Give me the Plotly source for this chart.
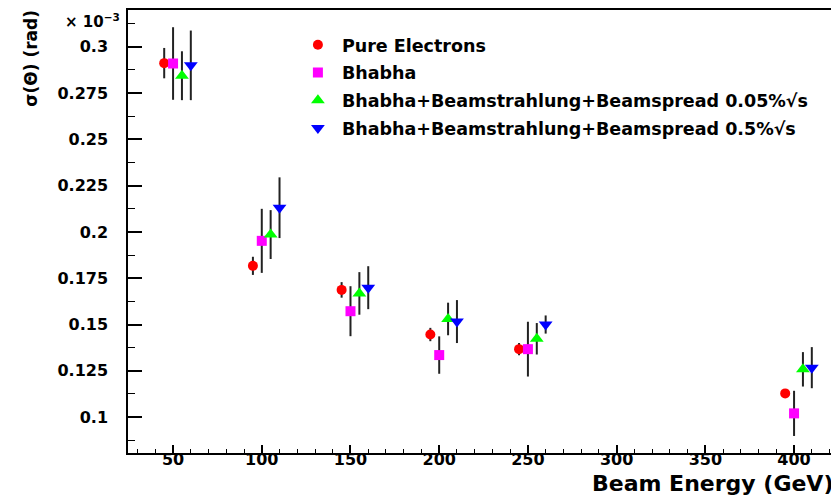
import plotly.graph_objects as go

# beam energies (GeV), each sample shifted a bit so the error bars don't overlap
e_pure = [45, 95, 145, 195, 245, 395]
e_bhabha = [50, 100, 150, 200, 250, 400]
e_bs005 = [55, 105, 155, 205, 255, 405]
e_bs05 = [60, 110, 160, 210, 260, 410]

# sigma(theta) values and errors (x 10^-3 rad)
pure = [0.2912, 0.1817, 0.1687, 0.1446, 0.1367, 0.1128]
pure_err = [0.0082, 0.0049, 0.0042, 0.0036, 0.0033, 0.0018]

bhabha = [0.2910, 0.1952, 0.1572, 0.1335, 0.1367, 0.1020]
bhabha_err = [0.0196, 0.0173, 0.0135, 0.0101, 0.0148, 0.0122]

bs005 = [0.2844, 0.1986, 0.1668, 0.1530, 0.1423, 0.1258]
bs005_err = [0.0132, 0.0132, 0.0115, 0.0088, 0.0085, 0.0093]

bs05 = [0.2900, 0.2131, 0.1699, 0.1516, 0.1500, 0.1267]
bs05_err = [0.0188, 0.0164, 0.0116, 0.0116, 0.0049, 0.0111]

FONT = 'DejaVu Sans'

fig = go.Figure()


def add_series(x, y, err, name, color, symbol, size):
    fig.add_trace(go.Scatter(
        x=x,
        y=y,
        mode='markers',
        name=name,
        legendgroup=name,
        marker=dict(color=color, symbol=symbol, size=size, line=dict(width=0)),
        error_y=dict(type='data', array=err, visible=True, color='#222222', thickness=2, width=0),
    ))


add_series(e_pure, pure, pure_err, 'Pure Electrons', '#ff0000', 'circle', 10)
add_series(e_bhabha, bhabha, bhabha_err, 'Bhabha', '#ff00ff', 'square', 10)
add_series(e_bs005, bs005, bs005_err, 'Bhabha+Beamstrahlung+Beamspread 0.05%√s', '#00ff00', 'triangle-up', 12)
add_series(e_bs05, bs05, bs05_err, 'Bhabha+Beamstrahlung+Beamspread 0.5%√s', '#0000ff', 'triangle-down', 12)

fig.update_xaxes(
    range=[24.6, 424.2],
    dtick=50,
    tick0=0,
    ticks='inside',
    ticklen=8,
    tickwidth=1.5,
    tickcolor='black',
    minor=dict(dtick=10, ticks='inside', ticklen=4, tickcolor='black', tickwidth=1),
    showline=True,
    linecolor='black',
    linewidth=1.5,
    mirror=True,
    showgrid=False,
    zeroline=False,
    ticklabelstandoff=-9,
    tickfont=dict(family=FONT, size=16, weight='bold', color='black'),
)

fig.update_yaxes(
    range=[0.0806, 0.3199],
    dtick=0.025,
    tick0=0,
    ticks='inside',
    ticklen=14,
    tickwidth=1.5,
    tickcolor='black',
    minor=dict(dtick=0.0125, ticks='inside', ticklen=7, tickcolor='black', tickwidth=1),
    showline=True,
    linecolor='black',
    linewidth=1.5,
    mirror=True,
    showgrid=False,
    zeroline=False,
    ticklabelstandoff=15,
    tickfont=dict(family=FONT, size=16, weight='bold', color='black'),
)

fig.add_annotation(
    text='Beam Energy (GeV)',
    xref='paper', yref='paper',
    x=0.997, y=-0.101,
    xanchor='right', yanchor='bottom',
    showarrow=False,
    font=dict(family=FONT, size=22, weight='bold', color='black'),
)

fig.add_annotation(
    text='σ(Θ) (rad)',
    xref='paper', yref='paper',
    x=-0.137, y=1.006,
    xanchor='center', yanchor='top',
    textangle=-90,
    showarrow=False,
    font=dict(family=FONT, size=17, weight='bold', color='black'),
)

fig.add_annotation(
    text='× 10<sup>−3</sup>',
    xref='paper', yref='paper',
    x=-0.008, y=0.975,
    xanchor='right', yanchor='middle',
    showarrow=False,
    font=dict(family=FONT, size=15, weight='bold', color='black'),
)

# the page body adds an 8px offset, so the figure is made 8px smaller
fig.update_layout(
    width=831,
    height=487,
    margin=dict(l=120, r=2, t=0, b=42),
    paper_bgcolor='white',
    plot_bgcolor='white',
    legend=dict(
        x=0.234, y=0.962,
        xanchor='left', yanchor='top',
        bgcolor='rgba(0,0,0,0)',
        traceorder='grouped',
        tracegroupgap=2,
        itemwidth=38,
        font=dict(family=FONT, size=17.5, weight='bold', color='black'),
    ),
)

fig.write_html('out.html')
